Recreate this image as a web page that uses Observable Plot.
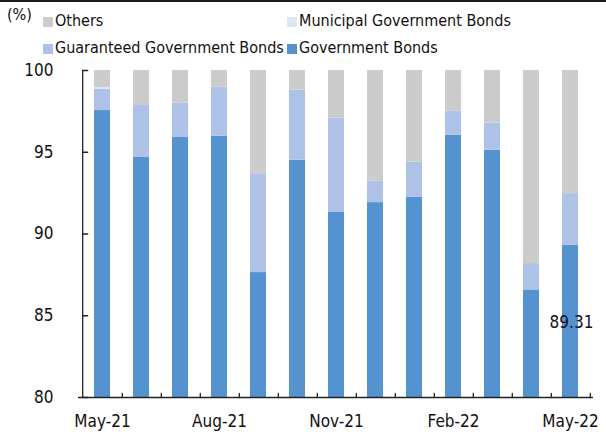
<!DOCTYPE html>
<html>
<head>
<meta charset="utf-8">
<script src="https://cdn.jsdelivr.net/npm/d3@7"></script>
<script src="https://cdn.jsdelivr.net/npm/@observablehq/plot@0.6"></script>
<style>
  html, body { margin: 0; padding: 0; background: #fff; }
  body { width: 606px; height: 437px; position: relative; overflow: hidden;
         font-family: "DejaVu Sans Condensed", "DejaVu Sans", sans-serif; }
  #topline { position: absolute; left: 0; top: 0; width: 606px; height: 2px; background: #1a1a1a; }
  #chart { position: absolute; left: 0; top: 0; }
  .lg { position: absolute; font-size: 16px; color: #111; line-height: 16px; white-space: nowrap; }
  .sw { position: absolute; width: 10px; height: 10px; }
</style>
</head>
<body>
<div id="chart"></div>
<div id="topline"></div>
<div id="legend"></div>
<script>
// ---- data ----
const months = ["May-21","Jun-21","Jul-21","Aug-21","Sep-21","Oct-21","Nov-21","Dec-21","Jan-22","Feb-22","Mar-22","Apr-22","May-22"];
const governmentBonds = [97.55, 94.68, 95.90, 95.98, 87.64, 94.51, 91.35, 91.92, 92.25, 96.04, 95.12, 86.58, 89.31];
const guaranteedBonds = [1.31, 3.18, 2.10, 3.00, 6.00, 4.29, 5.73, 1.31, 2.14, 1.47, 1.66, 1.61, 3.16];
const municipalBonds  = [0.10, 0, 0, 0, 0, 0, 0, 0, 0, 0, 0, 0, 0];
const others          = [1.04, 2.14, 2.00, 1.02, 6.36, 1.20, 2.92, 6.77, 5.61, 2.49, 3.22, 11.81, 7.53];
const seriesNames = ["Government Bonds", "Guaranteed Government Bonds", "Municipal Government Bonds", "Others"];
const seriesColors = ["#5592d0", "#adc2e6", "#dee6f5", "#cccccc"];
const yTicks = [80, 85, 90, 95, 100];
const xTickLabels = ["May-21", "Aug-21", "Nov-21", "Feb-22", "May-22"];
const labelValue = 89.31;

// ---- table ----
const seriesValues = [governmentBonds, guaranteedBonds, municipalBonds, others];
const rows = [];
months.forEach((m, i) => {
  seriesNames.forEach((s, k) => rows.push({month: m, series: s, value: seriesValues[k][i]}));
});

const W = 606, H = 437, mL = 78, mR = 13, mT = 70, mB = 40;
const step = (W - mL - mR) / months.length;
const fontFam = '"DejaVu Sans Condensed", "DejaVu Sans", sans-serif';

const tickShapeUp = { draw(ctx, l) { ctx.moveTo(0, 0); ctx.lineTo(0, -l); } };

const plot = Plot.plot({
  width: W, height: H,
  marginLeft: mL, marginRight: mR, marginTop: mT, marginBottom: mB,
  style: { fontFamily: fontFam, fontSize: "17px", color: "#111", background: "transparent" },
  x: { type: "band", domain: months, paddingInner: 0.6, paddingOuter: 0.3, label: null },
  y: { domain: [80, 100], label: null },
  color: { domain: seriesNames, range: seriesColors },
  marks: [
    Plot.barY(rows, Plot.stackY({
      x: "month", y: "value", fill: "series", order: seriesNames, clip: true
    })),
    // axis labels
    Plot.axisY({ ticks: yTicks, tickSize: 0, tickPadding: 25, tickFormat: d => d, fontSize: 17 }),
    Plot.axisX({ ticks: xTickLabels, tickSize: 0, tickPadding: 17, fontSize: 17 }),
    // axis lines
    Plot.ruleY([80], { stroke: "#222", strokeWidth: 1.3 }),
    Plot.ruleX([months[0]], { y1: 80, y2: 100, dx: -step / 2, stroke: "#222", strokeWidth: 1.3 }),
    // y ticks (inward)
    Plot.vector(yTicks, { x: () => months[0], y: d => d, dx: -step / 2, length: 5, rotate: 90, anchor: "start", shape: tickShapeUp, stroke: "#222", strokeWidth: 1.3 }),
    // x ticks at category boundaries (inward)
    Plot.vector(months, { x: d => d, y: 80, dx: step / 2, length: 4, rotate: 0, anchor: "start", shape: tickShapeUp, stroke: "#222", strokeWidth: 1.3 }),
    // data label
    Plot.text([labelValue], { x: () => months[months.length - 1], y: d => d, text: d => d.toFixed(2), dy: 77, dx: 1, fontSize: 17, fill: "#111" })
  ]
});
document.getElementById("chart").appendChild(plot);

// ---- legend (HTML) ----
const legend = document.getElementById("legend");
function addText(txt, x, y) {
  const t = document.createElement("div");
  t.className = "lg"; t.textContent = txt;
  t.style.left = x + "px"; t.style.top = y + "px";
  legend.appendChild(t);
}
function addItem(name, x, y) {
  const k = seriesNames.indexOf(name);
  const s = document.createElement("div");
  s.className = "sw"; s.style.background = seriesColors[k];
  s.style.left = x + "px"; s.style.top = (y + 4) + "px";
  legend.appendChild(s);
  addText(name, x + 12, y);
}
addText("(%)", 7, 7);
addItem("Others", 43, 13);
addItem("Municipal Government Bonds", 287, 13);
addItem("Guaranteed Government Bonds", 43, 40);
addItem("Government Bonds", 287, 40);
</script>
</body>
</html>
